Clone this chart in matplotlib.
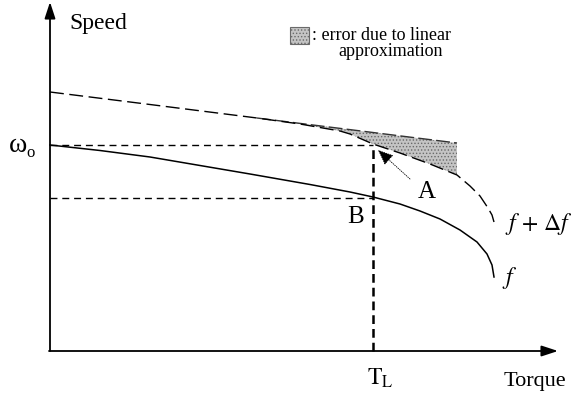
import matplotlib
matplotlib.use('Agg')
import matplotlib.pyplot as plt
import numpy as np

plt.rcParams['font.family'] = ['Liberation Serif', 'DejaVu Serif']
plt.rcParams['mathtext.fontset'] = 'stix'
plt.rcParams['hatch.linewidth'] = 0.6

# curve f + delta f (dashed), origin at axes corner
fdf_x = [0, 100, 207, 250, 290, 300, 323, 350, 380, 407, 420, 430, 438, 442, 444]
fdf_y = [259, 246.5, 233, 227, 220, 217, 207, 198, 187, 176, 165, 155, 143, 136, 129]
# curve f (solid)
f_x = [0, 50, 100, 200, 260, 300, 323, 350, 370, 390, 410, 427, 437, 442, 444]
f_y = [206, 200.5, 194, 177, 166.5, 159, 154, 147, 140, 132, 121, 109, 97, 86, 74]
# linear approximation (top edge of the shaded error)
lin_x = [0, 207, 407]
lin_y = [259, 233, 208]
# operating point
TL = 323
w0 = 206
wB = 153

fig = plt.figure(figsize=(5.74, 4.02), dpi=100)
ax = fig.add_axes([0, 0, 1, 1])
ax.set_xlim(-50, 524)
ax.set_ylim(-50, 352)
ax.axis('off')

# shaded error region between the line and the curve
i0 = fdf_x.index(lin_x[1])
i1 = fdf_x.index(lin_x[2])
poly_x = lin_x[1:] + fdf_x[i0:i1 + 1][::-1]
poly_y = lin_y[1:] + fdf_y[i0:i1 + 1][::-1]
ax.fill(poly_x, poly_y, facecolor='#c4c4c4', edgecolor='#6a6a6a',
        hatch='.....', linewidth=0)
ax.plot(lin_x[1:], lin_y[1:], color='#333333', lw=1.0, dashes=(10, 3))

# curves
ax.plot(fdf_x, fdf_y, color='k', lw=1.0, dashes=(10, 4))
ax.plot(f_x, f_y, color='k', lw=1.1)

# guide lines
ax.plot([0, TL], [w0, w0], color='k', lw=1.0, dashes=(5, 3.5))
ax.plot([0, TL], [wB, wB], color='k', lw=1.0, dashes=(5, 3.5))
ax.plot([TL, TL], [0, w0], color='k', lw=1.8, dashes=(3.5, 2))

# axes arrows
arr = dict(arrowstyle='-|>,head_length=0.55,head_width=0.18', lw=1.3,
           color='k', mutation_scale=18, shrinkA=0, shrinkB=0)
ax.annotate('', xy=(0, 349), xytext=(0, 0), arrowprops=arr)
ax.annotate('', xy=(508, 0), xytext=(-1, 0), arrowprops=arr)

# arrow A -> f + delta f
ax.annotate('', xy=(328, 201), xytext=(360, 172),
            arrowprops=dict(arrowstyle='-|>,head_length=0.6,head_width=0.25',
                            lw=0.6, ls=':', color='k', mutation_scale=16,
                            shrinkA=0, shrinkB=0))

# labels
ax.text(48, 328, 'Speed', fontsize=17, ha='center', va='center')
ax.text(485, -30, 'Torque', fontsize=16, ha='center', va='center')
ax.text(-32, 207, 'ω', fontsize=20, ha='center', va='center')
ax.text(-19, 199, 'o', fontsize=12, ha='center', va='center')
ax.text(330, -26, r'$\mathrm{T}_{\mathrm{L}}$', fontsize=17, ha='center', va='center')
ax.text(377, 160, 'A', fontsize=18, ha='center', va='center')
ax.text(306, 135, 'B', fontsize=18, ha='center', va='center')
ax.text(455, 128, r'$f\, +\, \Delta f$', fontsize=17, ha='left', va='center')
ax.text(452, 74, r'$f$', fontsize=17, ha='left', va='center')

# legend for shaded area
ax.fill([240, 259, 259, 240], [307, 307, 324, 324], facecolor='#c4c4c4',
        edgecolor='#6a6a6a', hatch='.....', linewidth=0.8)
ax.text(262, 316, ': error due to linear', fontsize=13, ha='left', va='center')
ax.text(288, 300, 'approximation', fontsize=13, ha='left', va='center')

fig.savefig('out.png', dpi=100)
